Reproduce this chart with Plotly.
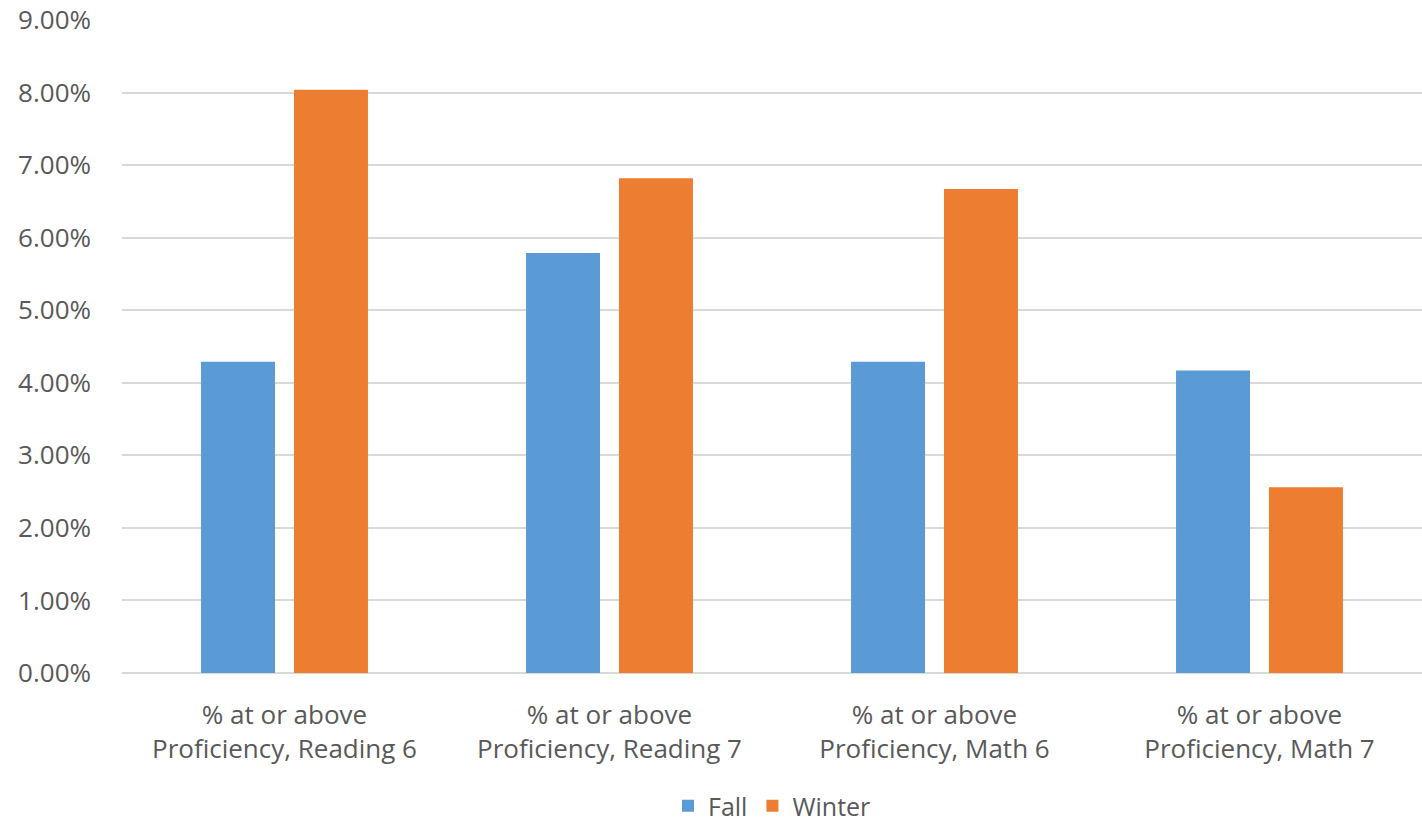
import plotly.graph_objects as go

categories = [
    "% at or above<br>Proficiency, Reading 6",
    "% at or above<br>Proficiency, Reading 7",
    "% at or above<br>Proficiency, Math 6",
    "% at or above<br>Proficiency, Math 7",
]
fall = [0.0429, 0.0579, 0.0429, 0.0417]
winter = [0.0804, 0.0682, 0.0667, 0.0256]
y_ticks = [i / 100 for i in range(0, 10)]

text_color = "#595959"
font_family = "Open Sans, Noto Sans, sans-serif"
font_size = 26

fig = go.Figure()
fig.add_trace(go.Bar(name="Fall", x=categories, y=fall, marker=dict(color="#5B9BD5", line=dict(width=0))))
fig.add_trace(go.Bar(name="Winter", x=categories, y=winter, marker=dict(color="#ED7D31", line=dict(width=0))))

fig.update_layout(
    width=1422,
    height=829,
    barmode="group",
    bargap=0.428,
    bargroupgap=0.204,
    plot_bgcolor="white",
    paper_bgcolor="white",
    margin=dict(l=122, r=0, t=20, b=156, autoexpand=False),
    font=dict(family=font_family, size=font_size, color=text_color),
    legend=dict(
        orientation="h",
        x=0.5,
        xanchor="center",
        yref="container",
        y=0.0,
        yanchor="bottom",
        font=dict(size=25, color=text_color),
        itemwidth=30,
    ),
    xaxis=dict(
        showgrid=False,
        showline=False,
        ticks="",
        automargin=False,
        ticklabelstandoff=24,
        tickfont=dict(size=font_size, color=text_color),
    ),
    yaxis=dict(
        range=[0, 0.09],
        tickvals=y_ticks,
        tickformat=".2%",
        showgrid=True,
        gridcolor="#D9D9D9",
        gridwidth=1.5,
        zeroline=True,
        zerolinecolor="#D9D9D9",
        zerolinewidth=1.5,
        showline=False,
        ticks="",
        automargin=False,
        ticklabelstandoff=30,
        tickfont=dict(size=font_size, color=text_color),
    ),
)

fig.write_html("out.html")
